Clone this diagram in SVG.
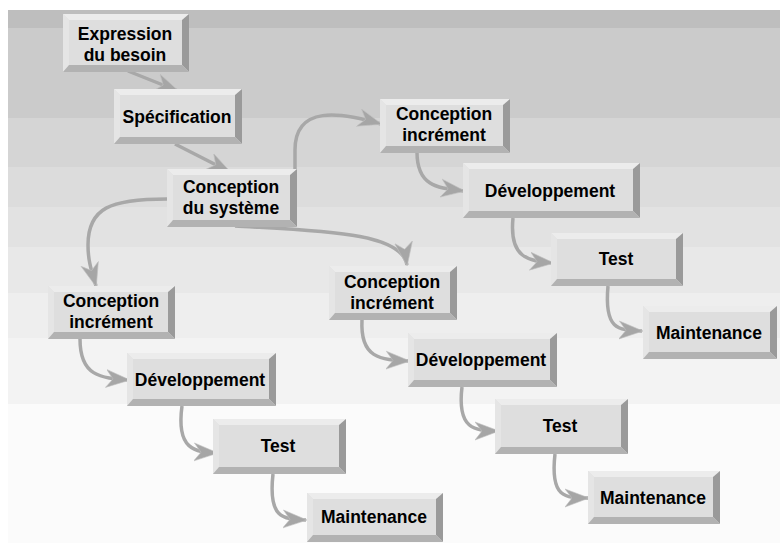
<svg xmlns="http://www.w3.org/2000/svg" width="780" height="543" viewBox="0 0 780 543">
<style>
.face{fill:#dedede}
.bt{fill:#ececec}
.bl{fill:#e5e5e5}
.br{fill:#9a9a9a}
.bb{fill:#b2b2b2}
.lbl{font-family:"Liberation Sans",Arial,sans-serif;font-weight:bold;font-size:17.5px;fill:#000;text-anchor:middle}
.con{fill:none;stroke:#a8a8a8;stroke-width:3.5;marker-end:url(#ah)}
</style>
<defs>
<marker id="ah" markerUnits="userSpaceOnUse" markerWidth="24" markerHeight="20" viewBox="0 0 24 20" refX="23" refY="10" orient="auto">
<path d="M0,1 L24,10 L0,19 L7,10 Z" fill="#a6a6a6" stroke="#c0c0c0" stroke-width="0.6"/>
</marker>
</defs>
<rect x="0" y="0" width="780" height="543" fill="#ffffff"/>
<g id="background">
<rect x="8" y="10" width="772" height="18" fill="#bebebe"/>
<rect x="8" y="28" width="772" height="90" fill="#cbcbcb"/>
<rect x="8" y="118" width="772" height="49" fill="#d5d5d5"/>
<rect x="8" y="167" width="772" height="40" fill="#dcdcdc"/>
<rect x="8" y="207" width="772" height="40" fill="#e2e2e2"/>
<rect x="8" y="247" width="772" height="46" fill="#e8e8e8"/>
<rect x="8" y="293" width="772" height="45" fill="#eeeeee"/>
<rect x="8" y="338" width="772" height="66" fill="#f3f3f3"/>
<rect x="8" y="404" width="772" height="139" fill="#fbfbfb"/>
</g>
<g id="connectors">
<path class="con" d="M128,71 L178,91"/>
<path class="con" d="M175,144 L230,172"/>
<path class="con" d="M295,197 L295,150 C295,105 340,112 381,124"/>
<path class="con" d="M167,199 C110,199 88,208 88,245 C88,262 92,272 96,286"/>
<path class="con" d="M235,226 C320,231 402,232 407,265"/>
<path class="con" d="M417,152 C417,188 440,188 464,191"/>
<path class="con" d="M513,218 C509,258 528,261 553,263"/>
<path class="con" d="M608,286 C604,330 618,330 642,331"/>
<path class="con" d="M80,339 C80,376 100,378 129,380"/>
<path class="con" d="M182,406 C176,450 195,452 217,453"/>
<path class="con" d="M273,474 C268,519 283,519 306,520"/>
<path class="con" d="M362,320 C360,358 380,360 409,361"/>
<path class="con" d="M462,387 C457,429 474,431 498,431"/>
<path class="con" d="M555,454 C550,498 565,498 588,498"/>
</g>
<g id="n1">
<rect class="face" x="63" y="14" width="126" height="58"/>
<polygon class="bt" points="63,14 189,14 183,20 69,20"/>
<polygon class="bl" points="63,14 69,20 69,66 63,72"/>
<polygon class="br" points="189,14 189,72 182,65 182,20"/>
<polygon class="bb" points="63,72 69,65 182,65 189,72"/>
<text class="lbl" x="125" y="40">Expression</text>
<text class="lbl" x="125" y="61">du besoin</text>
</g>
<g id="n2">
<rect class="face" x="114" y="89" width="128" height="55"/>
<polygon class="bt" points="114,89 242,89 236,95 120,95"/>
<polygon class="bl" points="114,89 120,95 120,138 114,144"/>
<polygon class="br" points="242,89 242,144 235,137 235,95"/>
<polygon class="bb" points="114,144 120,137 235,137 242,144"/>
<text class="lbl" x="177" y="123">Spécification</text>
</g>
<g id="n3">
<rect class="face" x="167" y="169" width="130" height="58"/>
<polygon class="bt" points="167,169 297,169 291,175 173,175"/>
<polygon class="bl" points="167,169 173,175 173,221 167,227"/>
<polygon class="br" points="297,169 297,227 290,220 290,175"/>
<polygon class="bb" points="167,227 173,220 290,220 297,227"/>
<text class="lbl" x="231" y="193">Conception</text>
<text class="lbl" x="231" y="214">du système</text>
</g>
<g id="n4">
<rect class="face" x="380" y="99" width="130" height="54"/>
<polygon class="bt" points="380,99 510,99 504,105 386,105"/>
<polygon class="bl" points="380,99 386,105 386,147 380,153"/>
<polygon class="br" points="510,99 510,153 503,146 503,105"/>
<polygon class="bb" points="380,153 386,146 503,146 510,153"/>
<text class="lbl" x="444" y="120">Conception</text>
<text class="lbl" x="444" y="141">incrément</text>
</g>
<g id="n5">
<rect class="face" x="463" y="163" width="177" height="55"/>
<polygon class="bt" points="463,163 640,163 634,169 469,169"/>
<polygon class="bl" points="463,163 469,169 469,212 463,218"/>
<polygon class="br" points="640,163 640,218 633,211 633,169"/>
<polygon class="bb" points="463,218 469,211 633,211 640,218"/>
<text class="lbl" x="550" y="197">Développement</text>
</g>
<g id="n6">
<rect class="face" x="551" y="233" width="132" height="53"/>
<polygon class="bt" points="551,233 683,233 677,239 557,239"/>
<polygon class="bl" points="551,233 557,239 557,280 551,286"/>
<polygon class="br" points="683,233 683,286 676,279 676,239"/>
<polygon class="bb" points="551,286 557,279 676,279 683,286"/>
<text class="lbl" x="616" y="265">Test</text>
</g>
<g id="n7">
<rect class="face" x="643" y="306" width="134" height="53"/>
<polygon class="bt" points="643,306 777,306 771,312 649,312"/>
<polygon class="bl" points="643,306 649,312 649,353 643,359"/>
<polygon class="br" points="777,306 777,359 770,352 770,312"/>
<polygon class="bb" points="643,359 649,352 770,352 777,359"/>
<text class="lbl" x="709" y="339">Maintenance</text>
</g>
<g id="n8">
<rect class="face" x="329" y="266" width="128" height="54"/>
<polygon class="bt" points="329,266 457,266 451,272 335,272"/>
<polygon class="bl" points="329,266 335,272 335,314 329,320"/>
<polygon class="br" points="457,266 457,320 450,313 450,272"/>
<polygon class="bb" points="329,320 335,313 450,313 457,320"/>
<text class="lbl" x="392" y="288">Conception</text>
<text class="lbl" x="392" y="309">incrément</text>
</g>
<g id="n9">
<rect class="face" x="408" y="333" width="149" height="54"/>
<polygon class="bt" points="408,333 557,333 551,339 414,339"/>
<polygon class="bl" points="408,333 414,339 414,381 408,387"/>
<polygon class="br" points="557,333 557,387 550,380 550,339"/>
<polygon class="bb" points="408,387 414,380 550,380 557,387"/>
<text class="lbl" x="481" y="366">Développement</text>
</g>
<g id="n10">
<rect class="face" x="495" y="399" width="133" height="55"/>
<polygon class="bt" points="495,399 628,399 622,405 501,405"/>
<polygon class="bl" points="495,399 501,405 501,448 495,454"/>
<polygon class="br" points="628,399 628,454 621,447 621,405"/>
<polygon class="bb" points="495,454 501,447 621,447 628,454"/>
<text class="lbl" x="560" y="432">Test</text>
</g>
<g id="n11">
<rect class="face" x="588" y="471" width="132" height="53"/>
<polygon class="bt" points="588,471 720,471 714,477 594,477"/>
<polygon class="bl" points="588,471 594,477 594,518 588,524"/>
<polygon class="br" points="720,471 720,524 713,517 713,477"/>
<polygon class="bb" points="588,524 594,517 713,517 720,524"/>
<text class="lbl" x="653" y="504">Maintenance</text>
</g>
<g id="n12">
<rect class="face" x="48" y="286" width="127" height="53"/>
<polygon class="bt" points="48,286 175,286 169,292 54,292"/>
<polygon class="bl" points="48,286 54,292 54,333 48,339"/>
<polygon class="br" points="175,286 175,339 168,332 168,292"/>
<polygon class="bb" points="48,339 54,332 168,332 175,339"/>
<text class="lbl" x="111" y="307">Conception</text>
<text class="lbl" x="111" y="328">incrément</text>
</g>
<g id="n13">
<rect class="face" x="127" y="353" width="149" height="53"/>
<polygon class="bt" points="127,353 276,353 270,359 133,359"/>
<polygon class="bl" points="127,353 133,359 133,400 127,406"/>
<polygon class="br" points="276,353 276,406 269,399 269,359"/>
<polygon class="bb" points="127,406 133,399 269,399 276,406"/>
<text class="lbl" x="200" y="386">Développement</text>
</g>
<g id="n14">
<rect class="face" x="213" y="419" width="133" height="55"/>
<polygon class="bt" points="213,419 346,419 340,425 219,425"/>
<polygon class="bl" points="213,419 219,425 219,468 213,474"/>
<polygon class="br" points="346,419 346,474 339,467 339,425"/>
<polygon class="bb" points="213,474 219,467 339,467 346,474"/>
<text class="lbl" x="278" y="452">Test</text>
</g>
<g id="n15">
<rect class="face" x="307" y="493" width="136" height="49"/>
<polygon class="bt" points="307,493 443,493 437,499 313,499"/>
<polygon class="bl" points="307,493 313,499 313,536 307,542"/>
<polygon class="br" points="443,493 443,542 436,535 436,499"/>
<polygon class="bb" points="307,542 313,535 436,535 443,542"/>
<text class="lbl" x="374" y="523">Maintenance</text>
</g>
</svg>
